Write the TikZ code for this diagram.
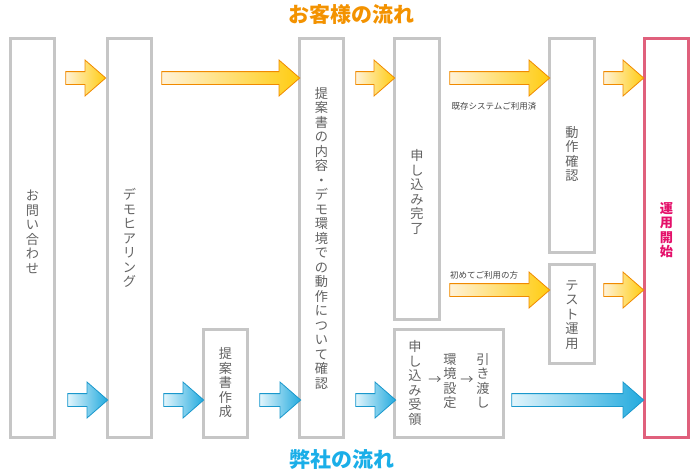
\documentclass[tikz,border=0pt]{standalone}
\usepackage{fontspec}
\setmainfont{Noto Sans CJK JP}
\usepackage{tikz}
\usetikzlibrary{shapes.arrows,positioning}

\definecolor{boxgray}{HTML}{C6C6C6}
\definecolor{textgray}{HTML}{626262}
\definecolor{notegray}{HTML}{444444}
\definecolor{goalpink}{HTML}{E0607C}
\definecolor{goaltext}{HTML}{E4106A}
\definecolor{custorange}{HTML}{F39200}
\definecolor{ownblue}{HTML}{1AAEE8}
\definecolor{orline}{HTML}{F08A00}
\definecolor{orpale}{HTML}{FFF2D8}
\definecolor{ormid}{HTML}{F8B848}
\definecolor{orhead}{HTML}{FFCC10}
\definecolor{blline}{HTML}{1A98CC}
\definecolor{blpale}{HTML}{E2F5FC}
\definecolor{blmid}{HTML}{62C6EC}
\definecolor{blhead}{HTML}{22AADE}

\begin{document}
\begin{tikzpicture}[
  x=1pt, y=-1pt,
  box/.style={rectangle, draw=boxgray, line width=3pt, minimum width=44pt, inner sep=0pt},
  goal/.style={box, draw=goalpink},
  tate/.style={align=center, text=textgray, inner sep=0pt, font=\fontsize{13.2}{14.5}\selectfont},
  note/.style={text=notegray, inner sep=0pt, font=\fontsize{8.5}{10}\selectfont},
  title/.style={inner sep=0pt, font=\fontsize{21}{24}\selectfont\bfseries},
  flow/.style={single arrow, single arrow head extend=11.5pt, single arrow tip angle=82,
    inner sep=0pt, inner ysep=6pt, line width=0.8pt},
  oarrow/.style={flow, draw=orline, left color=orpale, middle color=ormid, right color=orhead},
  barrow/.style={flow, draw=blline, left color=blpale, middle color=blmid, right color=blhead},
]
\useasboundingbox (0,0) rectangle (695,475);

% headings
\node[title, text=custorange] (custflow) at (351,15) {お客様の流れ};
\node[title, text=ownblue] (ownflow) at (342,460) {弊社の流れ};

% boxes
\node[box, minimum height=399pt] (inquiry) at (32.5,238) {};
\node[box, minimum height=399pt] (hearing) at (129.5,238) {};
\node[box, minimum height=108pt] (proposal) at (225.5,383.5) {};
\node[box, minimum height=399pt] (review) at (321.5,238) {};
\node[box, minimum width=45pt, minimum height=281pt] (applied) at (417,179) {};
\node[box, minimum width=109pt, minimum height=108pt] (setup) at (449,383.5) {};
\node[box, minimum width=45pt, minimum height=214pt] (check) at (572,145.5) {};
\node[box, minimum width=45pt, minimum height=99pt] (trial) at (572,314) {};
\node[goal, minimum height=399pt] (start) at (666.5,238) {};

% box texts
\node[tate] (inquiryt) at (32.5,232) {お\\問\\い\\合\\わ\\せ};
\node[tate] (hearingt) at (129.5,238) {デ\\モ\\ヒ\\ア\\リ\\ン\\グ};
\node[tate] (proposalt) at (225.5,383) {提\\案\\書\\作\\成};
\node[tate] (reviewt) at (321.5,238) {提\\案\\書\\の\\内\\容\\・\\デ\\モ\\環\\境\\で\\の\\動\\作\\に\\つ\\い\\て\\確\\認};
\node[tate] (appliedt) at (417,192) {申\\し\\込\\み\\完\\了};
\node[tate] (receivedt) at (415,383) {申\\し\\込\\み\\受\\領};
\node[tate] (to1) at (435,380) {→};
\node[tate] (configt) at (450,381) {環\\境\\設\\定};
\node[tate] (to2) at (467,380) {→};
\node[tate] (handovert) at (483,381) {引\\き\\渡\\し};
\node[tate] (checkt) at (572,154) {動\\作\\確\\認};
\node[tate] (trialt) at (572,315) {テ\\ス\\ト\\運\\用};
\node[tate, text=goaltext, font=\fontsize{13.2}{14.5}\selectfont\bfseries] (startt) at (666.5,230) {運\\用\\開\\始};

% branch notes
\node[note] (existing) at (494,106) {既存システムご利用済};
\node[note] (firsttime) at (484,275) {初めてご利用の方};

% customer arrows (top)
\foreach \x/\y/\l [count=\i] in {82/78/40pt, 227/78/138pt, 371.5/78/39pt, 496/78/100pt,
    620/78/40pt, 496/290/100pt, 620/290/40pt} {
  \node[oarrow, minimum height=\l] (oa\i) at (\x,\y) {};
}

% our arrows (bottom)
\foreach \x/\l [count=\i] in {84/40pt, 180/40pt, 276.5/41pt, 372/40pt, 574/132pt} {
  \node[barrow, minimum height=\l] (ba\i) at (\x,400) {};
}
\end{tikzpicture}
\end{document}
